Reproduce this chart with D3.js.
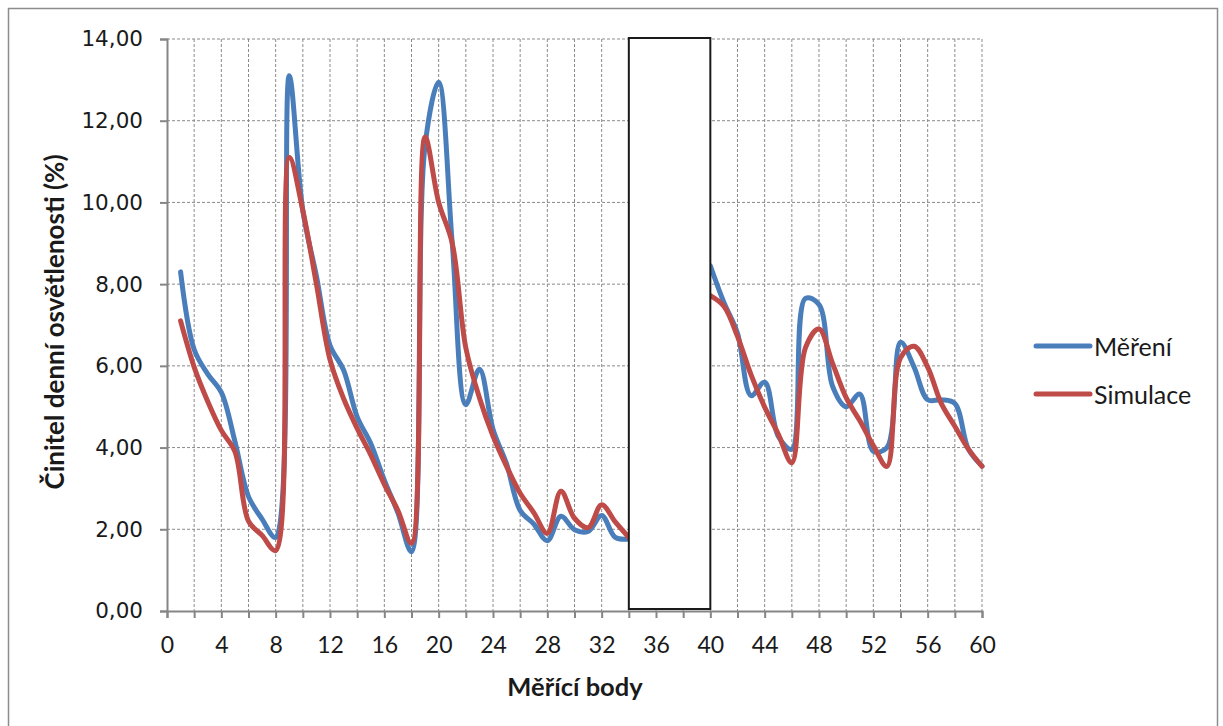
<!DOCTYPE html>
<html><head><meta charset="utf-8">
<script src="https://cdn.jsdelivr.net/npm/d3@7"></script>
<style>body{margin:0;background:#fff}</style>
</head><body>
<svg id="c" width="1223" height="726"></svg>
<script>
const points = d3.range(1, 61);
const mereni = [8.3,6.4,5.8,5.35,4.15,2.8,2.25,1.8,13.1,9.8,
  8.2,6.5,5.9,4.75,4.1,3.2,2.4,1.45,11.4,12.94,
  9.0,5.05,5.92,4.45,3.6,2.46,2.13,1.72,2.32,1.99,
  1.95,2.34,1.8,1.76,null,null,null,null,null,8.45,
  7.55,6.8,5.27,5.6,4.28,3.96,7.65,7.5,5.5,5.0,
  5.31,3.91,4.0,6.58,5.97,5.17,5.17,5.08,3.96,3.55];
const simulace = [7.1,5.97,5.13,4.42,3.9,2.2,1.85,1.48,11.1,9.8,
  8.0,6.15,5.2,4.47,3.82,3.1,2.46,1.66,11.6,10.0,
  9.0,6.44,5.22,4.28,3.54,2.88,2.41,1.9,2.93,2.27,
  2.04,2.6,2.18,1.8,null,null,null,null,null,7.72,
  7.46,6.72,5.78,4.99,4.33,3.63,6.44,6.9,6.06,5.22,
  4.66,4.05,3.54,6.2,6.48,5.97,5.08,4.52,3.96,3.54];
const yTicks = [0,2,4,6,8,10,12,14];
const xTicks = d3.range(0, 61, 4);
const seriesNames = ["Měření", "Simulace"];
const colors = ["#4A7EBB", "#BE4B48"];
const hiddenRange = [34, 40];

const svg = d3.select("#c");
const L = 167, R = 982, T = 39, B = 611;
const x = d3.scaleLinear().domain([0, 60]).range([L, R]);
const y = d3.scaleLinear().domain([0, 14]).range([B, T]);
const calibriLike = "Lato, Carlito, 'Open Sans', sans-serif";

// outer frame
svg.append("rect").attr("x", 8.5).attr("y", 8.5).attr("width", 1209).attr("height", 730)
  .attr("fill", "none").attr("stroke", "#8c8c8c").attr("stroke-width", 1.5);

// grid
const grid = svg.append("g");
grid.selectAll(".gy").data(yTicks.slice(1)).enter().append("line")
  .attr("x1", L).attr("x2", R).attr("y1", d => y(d)).attr("y2", d => y(d))
  .attr("stroke", "#8a8a8a").attr("stroke-width", 1).attr("stroke-dasharray", "3,2");
grid.selectAll(".gx").data(d3.range(2, 61, 2)).enter().append("line")
  .attr("x1", d => x(d)).attr("x2", d => x(d)).attr("y1", T).attr("y2", B)
  .attr("stroke", "#8a8a8a").attr("stroke-width", 1).attr("stroke-dasharray", "3,2");

// axes
const yAxis = d3.axisLeft(y).tickValues(yTicks).tickSize(7).tickPadding(17)
  .tickFormat(d => d3.format(".2f")(d).replace(".", ","));
const gy = svg.append("g").attr("transform", `translate(${L},0)`).call(yAxis);
gy.select(".domain").attr("stroke", "#868686").attr("stroke-width", 2);
gy.selectAll(".tick line").attr("stroke", "#868686").attr("stroke-width", 2);
gy.selectAll("text").attr("font-family", "'DejaVu Sans', Verdana, sans-serif")
  .attr("font-size", 21.5).attr("fill", "#1a1a1a");

const xAxis = d3.axisBottom(x).tickValues(d3.range(0, 61, 2)).tickSize(7)
  .tickFormat(d => xTicks.includes(d) ? d : "");
const gx = svg.append("g").attr("transform", `translate(0,${B})`).call(xAxis);
gx.select(".domain").attr("stroke", "#868686").attr("stroke-width", 2);
gx.selectAll(".tick line").attr("stroke", "#868686").attr("stroke-width", 2);
gx.selectAll("text").attr("font-family", calibriLike).attr("y", 42).attr("dy", 0)
  .attr("font-size", 23).attr("fill", "#1a1a1a");

// lines
const line = d3.line().defined(d => d[1] != null)
  .x(d => x(d[0])).y(d => y(d[1])).curve(d3.curveCatmullRom.alpha(0.5));
[mereni, simulace].forEach((s, i) => {
  svg.append("path").datum(points.map((p, k) => [p, s[k]]))
    .attr("d", line).attr("fill", "none").attr("stroke", colors[i])
    .attr("stroke-width", 5).attr("stroke-linejoin", "round").attr("stroke-linecap", "round");
});

// masking box
svg.append("rect").attr("x", x(hiddenRange[0])).attr("y", y(14) - 1)
  .attr("width", x(hiddenRange[1]) - x(hiddenRange[0])).attr("height", y(0) - y(14) - 1)
  .attr("fill", "#fff").attr("stroke", "#1a1a1a").attr("stroke-width", 2);

// titles
svg.append("text").attr("transform", `translate(64,322) rotate(-90)`)
  .attr("text-anchor", "middle").attr("font-family", calibriLike)
  .attr("font-weight", "bold").attr("font-size", 26).attr("fill", "#1a1a1a")
  .text("Činitel denní osvětlenosti (%)");
svg.append("text").attr("x", 575).attr("y", 696).attr("text-anchor", "middle")
  .attr("font-family", calibriLike)
  .attr("font-weight", "bold").attr("font-size", 25.5).attr("fill", "#1a1a1a")
  .text("Měřící body");

// legend
seriesNames.forEach((n, i) => {
  const ly = 346 + i * 48;
  svg.append("line").attr("x1", 1036).attr("x2", 1090).attr("y1", ly).attr("y2", ly)
    .attr("stroke", colors[i]).attr("stroke-width", 5).attr("stroke-linecap", "round");
  svg.append("text").attr("x", 1094).attr("y", ly + 10)
    .attr("font-family", calibriLike)
    .attr("font-size", 25).attr("fill", "#1a1a1a").text(n);
});
</script>
</body></html>
